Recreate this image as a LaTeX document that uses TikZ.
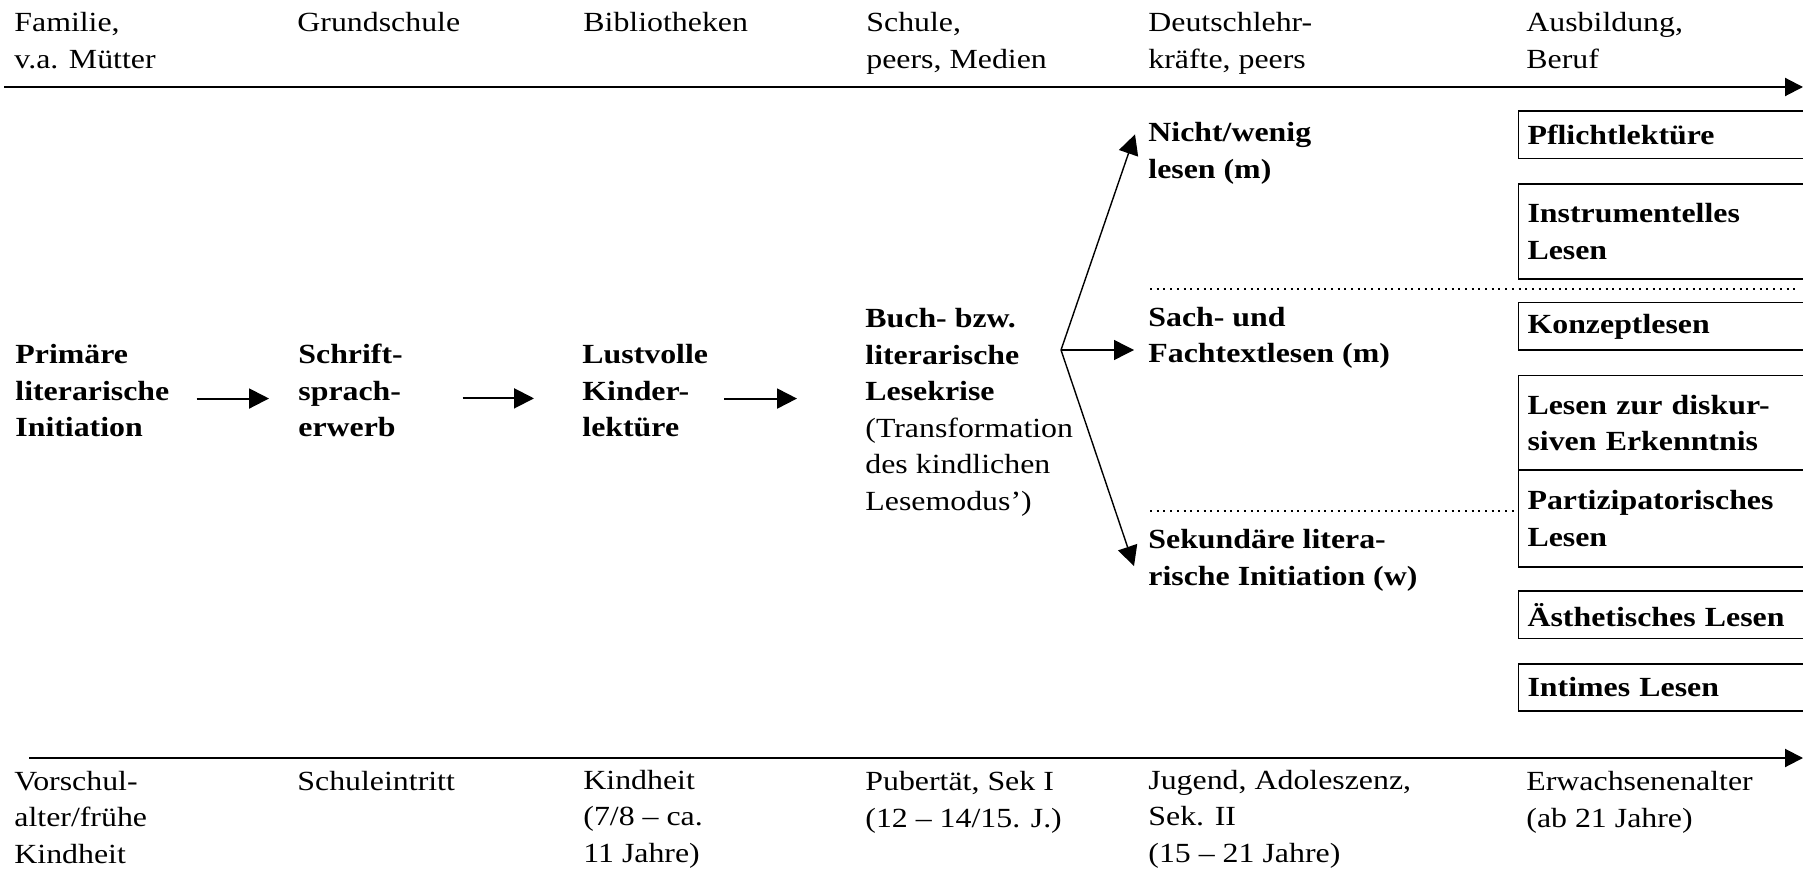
\documentclass[tikz,border=0pt]{standalone}
\usepackage{fontspec}
\setmainfont{Liberation Serif}[FakeStretch=1.15]
\usetikzlibrary{arrows.meta}

\begin{document}
\begin{tikzpicture}[x=0.5pt, y=-0.5pt, >={Triangle[length=10pt, width=10pt]},
  every node/.style={inner sep=0pt, anchor=base west, align=left, font=\fontsize{13.85pt}{18.25pt}\selectfont},
  stage/.style={font=\fontsize{13.85pt}{18.25pt}\selectfont\bfseries},
  form/.style={draw, line width=0.85pt, anchor=north west, inner xsep=4.5pt, inner ysep=0pt, text width=142.5pt, minimum height=#1*0.5pt, font=\fontsize{13.85pt}{18.25pt}\selectfont\bfseries},
  axis/.style={line width=1pt, -{Triangle[length=9pt, width=9pt]}},
  flow/.style={line width=1pt, ->},
  branch/.style={line width=0.7pt, ->},
  sep/.style={line width=1pt, dash pattern=on 1pt off 2.35pt}]
\useasboundingbox (0,0) rectangle (1803,887);
\clip (0,0) rectangle (1803,887);

% Instanzen oben (base = letzte Zeile)
\node (fam) at (14,68.5) {Familie,\\v.a. Mütter};
\node (grund) at (297,32) {Grundschule};
\node (bib) at (583,32) {Bibliotheken};
\node (schul) at (866,68.5) {Schule,\\peers, Medien};
\node (lehr) at (1148,68.5) {Deutschlehr-\\kräfte, peers};
\node (ausb) at (1526,68.5) {Ausbildung,\\Beruf};
\coordinate (t0) at (4,87);
\coordinate (t1) at (1803,87);
\draw[axis] (t0) -- (t1);

% Phasen
\node[stage] (prim) at (15,437) {Primäre\\literarische\\Initiation};
\node[stage] (schrift) at (298,437) {Schrift-\\sprach-\\erwerb};
\node[stage] (lust) at (582,437) {Lustvolle\\Kinder-\\lektüre};
\node (krise) at (865,510) {\textbf{Buch- bzw.}\\\textbf{literarische}\\\textbf{Lesekrise}\\(Transformation\\des kindlichen\\Lesemodus’)};
\node[stage] (nicht) at (1148,178.5) {Nicht/wenig\\lesen (m)};
\node[stage] (sach) at (1148,363) {Sach- und\\Fachtextlesen (m)};
\node[stage] (sek) at (1148,585) {Sekundäre litera-\\rische Initiation (w)};

\draw[flow] ([xshift=13.5pt,yshift=-3.75pt]prim.east) -- ([xshift=-14.5pt,yshift=-3.75pt]prim.east -| schrift.west);
\draw[flow] ([xshift=29.75pt,yshift=-3.75pt]schrift.east) -- ([xshift=-24pt,yshift=-3.75pt]schrift.east -| lust.west);
\draw[flow] ([xshift=8pt,yshift=-3.75pt]lust.east) -- ([xshift=-34pt,yshift=-3.75pt]lust.east -| krise.west);

\coordinate (fork) at (1061,350);
\draw[branch] (fork) -- ([xshift=-6.5pt,yshift=-6pt]nicht.north west);
\draw[branch] (fork) -- ([xshift=-7pt]fork -| sach.west);
\draw[branch] (fork) -- ([xshift=-7pt,yshift=-3pt]sek.west);

% Lesemodi
\node[form=47.3] (pflicht) at (1517.7,110.3) {Pflichtlektüre};
\node[form=95.3] (instr) at (1517.7,183) {Instrumentelles\\Lesen};
\node[form=47.6] (konz) at (1517.7,301.7) {Konzeptlesen};
\node[form=94.6] (disk) at (1517.7,374.7) {Lesen zur diskur-\\siven Erkenntnis};
\node[form=96.7] (part) at (1517.7,469.3) {Partizipatorisches\\Lesen};
\node[form=47.4] (aesth) at (1517.7,590.3) {Ästhetisches Lesen};
\node[form=47.3] (intim) at (1517.7,663) {Intimes Lesen};

\draw[sep] (1150,289) -- (1797,289);
\draw[sep] (1150,511) -- (1515,511);

% Lebensphasen unten
\coordinate (b0) at (29,758);
\coordinate (b1) at (1803,758);
\draw[axis] (b0) -- (b1);
\node (vor) at (14,863) {Vorschul-\\alter/frühe\\Kindheit};
\node (ein) at (297,790) {Schuleintritt};
\node (kind) at (583,862) {Kindheit\\(7/8 – ca.\\11 Jahre)};
\node (pub) at (865,827) {Pubertät, Sek I\\(12 – 14/15. J.)};
\node (jug) at (1148,862) {Jugend, Adoleszenz,\\Sek. II\\(15 – 21 Jahre)};
\node (erw) at (1526,827) {Erwachsenenalter\\(ab 21 Jahre)};
\end{tikzpicture}
\end{document}
